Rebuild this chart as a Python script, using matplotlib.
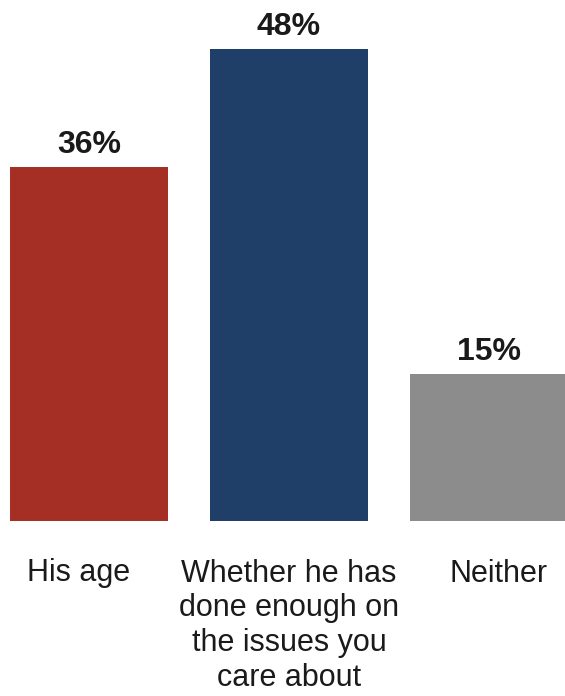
import matplotlib.pyplot as plt
from matplotlib.transforms import ScaledTranslation

# data
categories = ['His age', 'Whether he has\ndone enough on\nthe issues you\ncare about', 'Neither']
values = [36, 48, 15]
colors = ['#A52F24', '#1F3F69', '#8C8C8C']

plt.rcParams['font.family'] = ['Liberation Sans', 'DejaVu Sans']

W, H = 565, 696
fig = plt.figure(figsize=(W / 100, H / 100), dpi=100)

# axes: zero line at 521 px from top, spans full width
ax = fig.add_axes([0, (H - 521) / H, 1, 521 / H])

x = range(len(values))
bars = ax.bar(x, values, width=0.79, color=colors)

# bar centers ~200 px apart, first centre at ~89 px
ax.set_xlim(-89 / 200, (W - 89) / 200)
ax.set_ylim(0, 521 / 9.83)

ax.bar_label(bars, labels=[f'{v}%' for v in values], padding=5,
             fontsize=23, fontweight='bold', color='#1a1a1a')

ax.set_xticks(list(x))
ax.set_xticklabels(categories, fontsize=22, color='#1a1a1a', linespacing=1.21)
ax.tick_params(axis='x', length=0, pad=27)
ax.set_yticks([])
for s in ax.spines.values():
    s.set_visible(False)

# outer labels sit a little off their bar centres in the original
for lbl, dx in zip(ax.get_xticklabels(), [-10, 0, 10]):
    lbl.set_transform(lbl.get_transform() + ScaledTranslation(dx / 100, 0, fig.dpi_scale_trans))

fig.savefig('out.png', dpi=100)
